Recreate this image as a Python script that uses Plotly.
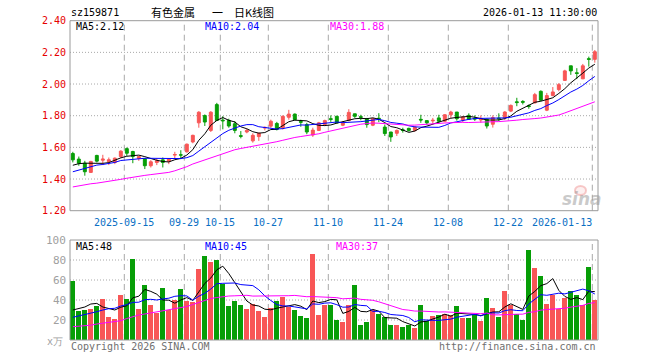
import plotly.graph_objects as go

# ---------------- data ----------------
dates = (
    ["2025-09-%02d" % d for d in [2, 3, 4, 5, 8, 9, 10, 11, 12, 15, 16, 17, 18, 19, 22, 23, 24, 25, 26, 29, 30]]
    + ["2025-10-%02d" % d for d in [9, 10, 13, 14, 15, 16, 17, 20, 21, 22, 23, 24, 27, 28, 29, 30, 31]]
    + ["2025-11-%02d" % d for d in [3, 4, 5, 6, 7, 10, 11, 12, 13, 14, 17, 18, 19, 20, 21, 24, 25, 26, 27, 28]]
    + ["2025-12-%02d" % d for d in [1, 2, 3, 4, 5, 8, 9, 10, 11, 12, 15, 16, 17, 18, 19, 22, 23, 24, 25, 26, 29, 30, 31]]
    + ["2026-01-%02d" % d for d in [5, 6, 7, 8, 9, 12, 13]]
)

opens = [1.561, 1.526, 1.500, 1.442, 1.549, 1.519, 1.510, 1.505, 1.542, 1.592,
         1.574, 1.530, 1.528, 1.484, 1.505, 1.521, 1.513, 1.551, 1.553, 1.572,
         1.634, 1.755, 1.801, 1.707, 1.870, 1.772, 1.770, 1.749, 1.674, 1.697,
         1.641, 1.668, 1.722, 1.734, 1.751, 1.724, 1.790, 1.810, 1.763, 1.744,
         1.678, 1.707, 1.744, 1.781, 1.796, 1.740, 1.769, 1.812, 1.794, 1.781,
         1.740, 1.784, 1.728, 1.697, 1.689, 1.711, 1.720, 1.707, 1.777, 1.769,
         1.767, 1.786, 1.765, 1.806, 1.823, 1.773, 1.802, 1.783, 1.773, 1.777,
         1.746, 1.785, 1.788, 1.829, 1.888, 1.890, 1.863, 1.881, 1.954, 1.835,
         1.927, 1.965, 2.023, 2.115, 2.071, 2.033, 2.160, 2.156]
highs = [1.572, 1.542, 1.515, 1.515, 1.553, 1.553, 1.536, 1.536, 1.582, 1.599,
         1.578, 1.546, 1.532, 1.519, 1.530, 1.536, 1.530, 1.572, 1.582, 1.624,
         1.680, 1.829, 1.808, 1.829, 1.881, 1.797, 1.781, 1.766, 1.703, 1.718,
         1.689, 1.693, 1.732, 1.775, 1.761, 1.802, 1.837, 1.814, 1.775, 1.755,
         1.724, 1.761, 1.775, 1.802, 1.800, 1.765, 1.841, 1.812, 1.806, 1.786,
         1.786, 1.816, 1.744, 1.697, 1.713, 1.724, 1.724, 1.734, 1.806, 1.769,
         1.786, 1.806, 1.810, 1.831, 1.823, 1.798, 1.815, 1.802, 1.802, 1.781,
         1.802, 1.815, 1.829, 1.871, 1.913, 1.898, 1.871, 1.944, 1.960, 1.944,
         1.981, 2.006, 2.090, 2.115, 2.100, 2.127, 2.173, 2.215]
lows = [1.505, 1.484, 1.421, 1.438, 1.505, 1.488, 1.488, 1.494, 1.532, 1.546,
        1.500, 1.515, 1.463, 1.473, 1.488, 1.473, 1.494, 1.526, 1.526, 1.567,
        1.626, 1.724, 1.735, 1.697, 1.766, 1.714, 1.724, 1.689, 1.657, 1.689,
        1.630, 1.641, 1.707, 1.724, 1.707, 1.713, 1.775, 1.771, 1.730, 1.683,
        1.666, 1.703, 1.734, 1.761, 1.751, 1.734, 1.765, 1.786, 1.771, 1.724,
        1.734, 1.759, 1.672, 1.635, 1.672, 1.693, 1.699, 1.699, 1.755, 1.744,
        1.751, 1.755, 1.759, 1.786, 1.769, 1.760, 1.773, 1.767, 1.756, 1.719,
        1.725, 1.767, 1.773, 1.823, 1.860, 1.871, 1.844, 1.877, 1.892, 1.829,
        1.923, 1.954, 2.019, 2.058, 2.031, 2.031, 2.110, 2.135]
closes = [1.521, 1.500, 1.446, 1.511, 1.513, 1.526, 1.522, 1.532, 1.576, 1.563,
          1.542, 1.542, 1.484, 1.509, 1.515, 1.505, 1.526, 1.555, 1.551, 1.620,
          1.676, 1.822, 1.760, 1.822, 1.770, 1.768, 1.735, 1.707, 1.670, 1.707,
          1.676, 1.689, 1.726, 1.765, 1.713, 1.796, 1.810, 1.775, 1.759, 1.697,
          1.709, 1.755, 1.769, 1.777, 1.755, 1.755, 1.821, 1.796, 1.790, 1.744,
          1.781, 1.779, 1.687, 1.666, 1.707, 1.707, 1.707, 1.728, 1.773, 1.755,
          1.771, 1.765, 1.806, 1.823, 1.781, 1.792, 1.777, 1.779, 1.783, 1.735,
          1.788, 1.781, 1.823, 1.865, 1.883, 1.885, 1.858, 1.933, 1.898, 1.927,
          1.950, 1.996, 2.083, 2.083, 2.067, 2.115, 2.156, 2.204]
volumes = [59, 29, 30, 31, 34, 41, 23, 21, 45, 41,
           81, 31, 55, 35, 27, 52, 30, 40, 51, 39,
           38, 71, 84, 78, 80, 56, 34, 39, 35, 31,
           36, 29, 23, 32, 39, 43, 33, 30, 24, 22,
           86, 25, 35, 35, 20, 18, 35, 55, 15, 18,
           30, 26, 23, 15, 15, 13, 15, 12, 35, 19,
           24, 25, 26, 25, 34, 22, 22, 25, 19, 42,
           32, 23, 49, 35, 26, 20, 90, 72, 64, 36,
           45, 31, 42, 49, 45, 35, 73, 40]

# moving-average values for days whose window starts before the chart
ma5_head = [1.487, 1.497, 1.500, 1.499]
ma10_head = [1.446, 1.457, 1.467, 1.477, 1.488, 1.492, 1.498, 1.505, 1.517]
ma30_head = [1.350, 1.358, 1.365, 1.370, 1.374, 1.379, 1.385, 1.392, 1.398, 1.405,
             1.412, 1.418, 1.423, 1.428, 1.433, 1.437, 1.442, 1.452, 1.464, 1.478,
             1.495, 1.508, 1.522, 1.536, 1.550, 1.562, 1.575, 1.585, 1.593]
vma5_head = [30, 31.5, 33, 36]
vma10_head = [22.7, 24, 25, 26.7, 28.3, 30, 31.3, 31.7, 34]
vma30_head = [13.3, 13.8, 14.2, 14.8, 16.0, 16.8, 17.5, 18.5, 19.3, 21.5,
              23.5, 25.0, 26.0, 27.0, 28.0, 29.0, 30.5, 31.5, 32.5, 33.5,
              35.5, 37.5, 39.5, 41.5, 42.5, 43.5, 44.0, 44.2, 44.3]

price_ticks = [1.20, 1.40, 1.60, 1.80, 2.00, 2.20, 2.40]
vol_ticks = [20, 40, 60, 80, 100]
date_ticks = ["2025-09-15", "2025-09-29", "2025-10-15", "2025-10-27", "2025-11-10",
              "2025-11-24", "2025-12-08", "2025-12-22", "2026-01-13"]
date_tick_text = ["2025-09-15", "09-29", "10-15", "10-27", "11-10",
                  "11-24", "12-08", "12-22", "2026-01-13"]

code = "sz159871"
title_parts = ["有色金属", "一", "日K线图"]
timestamp = "2026-01-13 11:30:00"
price_ma_labels = ["MA5:2.12", "MA10:2.04", "MA30:1.88"]
vol_ma_labels = ["MA5:48", "MA10:45", "MA30:37"]


def moving_avg(vals, n, head):
    out = list(head)
    for i in range(len(head), len(vals)):
        out.append(sum(vals[i - n + 1:i + 1]) / n)
    return out


ma5 = moving_avg(closes, 5, ma5_head)
ma10 = moving_avg(closes, 10, ma10_head)
ma30 = moving_avg(closes, 30, ma30_head)
vma5 = moving_avg(volumes, 5, vma5_head)
vma10 = moving_avg(volumes, 10, vma10_head)
vma30 = moving_avg(volumes, 30, vma30_head)

# ---------------- styling ----------------
W, H = 660, 360
RED = "#f85656"
GREEN = "#079e07"
MONO = "DejaVu Sans Mono"
GRID = "#a8a8a8"
BORDER = "#9a9a9a"

xs = list(range(len(dates)))
x0_px, x1_px = 70, 598
main_top, main_bot = 20.7, 210.7
vol_top, vol_bot = 240, 340


def py(px):
    return (H - px) / H


def pxx(px):
    return px / W


fig = go.Figure()

fig.add_trace(go.Candlestick(
    x=xs, open=opens, high=highs, low=lows, close=closes,
    increasing=dict(line=dict(color=RED, width=1), fillcolor=RED),
    decreasing=dict(line=dict(color=GREEN, width=1), fillcolor=GREEN),
    whiskerwidth=0, xaxis="x", yaxis="y", showlegend=False, hoverinfo="skip",
))
for vals, col in [(ma5, "#000000"), (ma10, "#0000ff"), (ma30, "#ff00ff")]:
    fig.add_trace(go.Scatter(x=xs, y=vals, mode="lines", line=dict(color=col, width=1),
                             xaxis="x", yaxis="y", showlegend=False, hoverinfo="skip"))

vcolors = [RED if c >= o else GREEN for o, c in zip(opens, closes)]
fig.add_trace(go.Bar(x=xs, y=volumes, marker=dict(color=vcolors, line=dict(width=0)),
                     width=0.83, xaxis="x2", yaxis="y2", showlegend=False, hoverinfo="skip"))
for vals, col in [(vma5, "#000000"), (vma10, "#0000ff"), (vma30, "#ff00ff")]:
    fig.add_trace(go.Scatter(x=xs, y=vals, mode="lines", line=dict(color=col, width=1),
                             xaxis="x2", yaxis="y2", showlegend=False, hoverinfo="skip"))

xr = [-0.47, len(dates) - 1 + 0.53]
axis_common = dict(showgrid=False, zeroline=False, showticklabels=False, ticks="", showline=False)
fig.update_layout(
    width=W, height=H, margin=dict(l=0, r=0, t=0, b=0),
    paper_bgcolor="white", plot_bgcolor="white",
    boxgap=0.3, bargap=0, hovermode=False,
    xaxis=dict(domain=[pxx(x0_px), pxx(x1_px)], range=xr, rangeslider=dict(visible=False), **axis_common),
    yaxis=dict(domain=[py(main_bot), py(main_top)], range=[1.20, 2.40], **axis_common),
    xaxis2=dict(domain=[pxx(x0_px), pxx(x1_px)], range=xr, anchor="y2", **axis_common),
    yaxis2=dict(domain=[py(vol_bot), py(vol_top)], range=[0, 100], anchor="x2", **axis_common),
)

shapes = []
# horizontal dotted grid
for t in price_ticks[1:-1]:
    shapes.append(dict(type="line", xref="x domain", yref="y", x0=0, x1=1, y0=t, y1=t,
                       line=dict(color=GRID, width=1, dash="1px,2px"), layer="below"))
for t in vol_ticks[:-1]:
    shapes.append(dict(type="line", xref="x2 domain", yref="y2", x0=0, x1=1, y0=t, y1=t,
                       line=dict(color=GRID, width=1, dash="1px,2px"), layer="below"))
# vertical dashed grid at date ticks
for d in date_ticks:
    i = dates.index(d)
    xv = i - 0.42
    shapes.append(dict(type="line", xref="x", yref="y domain", x0=xv, x1=xv, y0=0, y1=1,
                       line=dict(color=GRID, width=1, dash="6px,4px"), layer="below"))
    shapes.append(dict(type="line", xref="x2", yref="y2 domain", x0=xv, x1=xv, y0=0, y1=1,
                       line=dict(color=GRID, width=1, dash="6px,4px"), layer="below"))
# panel borders
shapes.append(dict(type="rect", xref="x domain", yref="y domain", x0=0, x1=1, y0=0, y1=1,
                   line=dict(color=BORDER, width=1)))
shapes.append(dict(type="rect", xref="x2 domain", yref="y2 domain", x0=0, x1=1, y0=0, y1=1,
                   line=dict(color=BORDER, width=1)))
# sina watermark eye
shapes.append(dict(type="circle", xref="paper", yref="paper",
                   x0=pxx(575), x1=pxx(586), y0=py(195), y1=py(186),
                   line=dict(color="rgba(240,150,150,0.5)", width=2),
                   fillcolor="rgba(250,205,205,0.3)"))
fig.update_layout(shapes=shapes)

ann = []


def text(x, y, s, color, size=10, xanchor="left", family=MONO, xref="paper", yref="paper", **kw):
    ann.append(dict(x=x, y=y, xref=xref, yref=yref, text=s, showarrow=False,
                    xanchor=xanchor, yanchor="middle", borderpad=0,
                    font=dict(family=family, size=size, color=color, **kw)))


# header
text(pxx(70), py(12.5), code, "#000000")
for s, xp in zip(title_parts, [150, 211, 232.5]):
    text(pxx(xp), py(12.5), s, "#000000", size=11, family="Noto Sans CJK SC")
text(pxx(597.5), py(12.5), timestamp, "#000000", xanchor="right")
# MA labels
for s, xp, col in zip(price_ma_labels, [75, 204, 329], ["#000000", "#0000ff", "#ff00ff"]):
    text(pxx(xp), py(26.5), s, col)
for s, xp, col in zip(vol_ma_labels, [75, 204, 335], ["#000000", "#0000ff", "#ff00ff"]):
    text(pxx(xp), py(246.5), s, col)
# price axis labels
for t in price_ticks:
    text(pxx(66.5), t, "%.2f" % t, "#e60000", xanchor="right", yref="y")
# volume axis labels
for t in vol_ticks:
    text(pxx(67), t, str(t), "#a0a0a0", size=11, xanchor="right", yref="y2")
text(pxx(64), py(341), "x万", "#a0a0a0", size=10, xanchor="right")
# date labels
for d, s in zip(date_ticks, date_tick_text):
    i = dates.index(d)
    anchor = "right" if i == len(dates) - 1 else "center"
    text(i - 0.42 + (0.05 if anchor == "right" else 0), py(222), s, "#0a6fc4",
         xanchor=anchor, xref="x")
# footer
text(pxx(70), py(346), "Copyright 2026 SINA.COM", "#707070")
text(pxx(597), py(346), "http://finance.sina.com.cn", "#707070", xanchor="right")
# watermark
text(pxx(582), py(199), "sina", "rgba(150,150,150,0.5)", size=17, xanchor="center",
     family="DejaVu Sans", style="italic", weight="bold")

fig.update_layout(annotations=ann)
# the page's default 8px body margin would shift the 660x360 figure; remove it
fig.write_html("out.html", config={"displayModeBar": False},
               post_script="document.body.style.margin='0';")
